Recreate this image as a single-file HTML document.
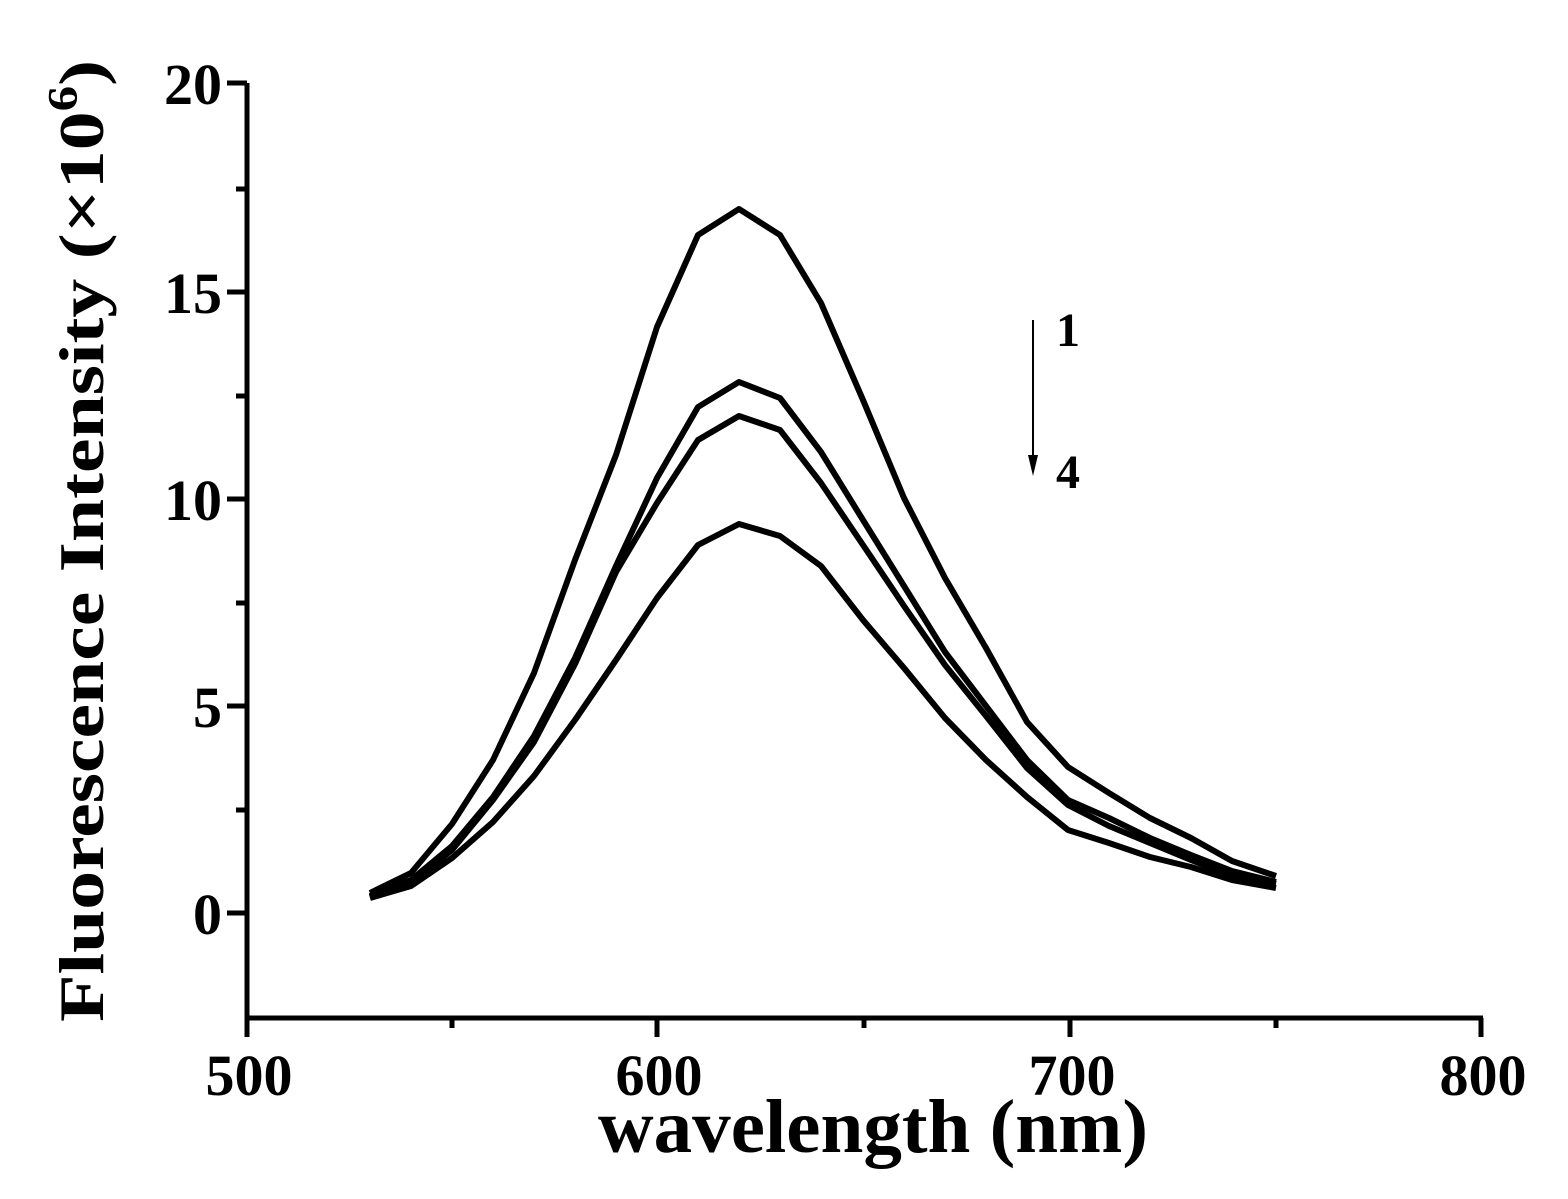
<!DOCTYPE html>
<html><head><style>html,body{margin:0;padding:0;background:#fff}</style></head>
<body>
<svg width="1568" height="1194" xmlns="http://www.w3.org/2000/svg" font-family="Liberation Serif, serif" font-weight="bold">
<g stroke="#000" stroke-width="5" fill="none">
<line x1="247" y1="83" x2="247" y2="1020"/>
<line x1="245" y1="1018" x2="1483" y2="1018"/>
<line x1="227" y1="83" x2="247" y2="83"/>
<line x1="227" y1="292" x2="247" y2="292"/>
<line x1="227" y1="499" x2="247" y2="499"/>
<line x1="227" y1="706" x2="247" y2="706"/>
<line x1="227" y1="913" x2="247" y2="913"/>
<line x1="236" y1="189" x2="247" y2="189"/>
<line x1="236" y1="396" x2="247" y2="396"/>
<line x1="236" y1="603" x2="247" y2="603"/>
<line x1="236" y1="810" x2="247" y2="810"/>
<line x1="247" y1="1018" x2="247" y2="1037"/>
<line x1="657" y1="1018" x2="657" y2="1037"/>
<line x1="1070" y1="1018" x2="1070" y2="1037"/>
<line x1="1481" y1="1018" x2="1481" y2="1037"/>
<line x1="452" y1="1018" x2="452" y2="1028"/>
<line x1="864" y1="1018" x2="864" y2="1028"/>
<line x1="1276" y1="1018" x2="1276" y2="1028"/>
</g>
<g font-size="58" text-anchor="end">
<text x="222" y="104">20</text>
<text x="222" y="313">15</text>
<text x="222" y="520">10</text>
<text x="222" y="727">5</text>
<text x="222" y="934">0</text>
</g>
<g font-size="58" text-anchor="middle">
<text x="249" y="1095">500</text>
<text x="659" y="1095">600</text>
<text x="1072" y="1095">700</text>
<text x="1483" y="1095">800</text>
</g>
<text x="598" y="1152" font-size="76" textLength="550" lengthAdjust="spacingAndGlyphs">wavelength (nm)</text>
<text transform="translate(103,1022) rotate(-90)" font-size="64" textLength="962" lengthAdjust="spacingAndGlyphs">Fluorescence Intensity (×10<tspan font-size="42" dy="-26">6</tspan><tspan dy="26">)</tspan></text>
<g stroke="#000" stroke-width="6" fill="none" stroke-linejoin="round">
<polyline points="370,893 411,873 452,824 493,760 534,673 575,560 616,455 657,327 698,235 739,209 780,235 821,303 863,400 904,498 945,578 986,648 1027,722 1068,767 1109,793 1150,818 1191,838 1232,861 1276,876"/>
<polyline points="370,896 411,880 452,846 493,797 534,736 575,658 616,566 657,478 698,407 739,382 780,398 821,452 863,520 904,586 945,652 986,706 1027,760 1068,800 1109,818 1150,838 1191,855 1232,871 1276,882"/>
<polyline points="370,897 411,882 452,850 493,800 534,742 575,664 616,572 657,503 698,440 739,416 780,430 821,483 863,545 904,606 945,665 986,716 1027,768 1068,805 1109,826 1150,843 1191,860 1232,876 1276,884"/>
<polyline points="370,898 411,886 452,858 493,822 534,776 575,720 616,660 657,598 698,545 739,524 780,536 821,566 863,620 904,668 945,718 986,760 1027,797 1068,830 1109,843 1150,857 1191,867 1232,880 1276,888"/>
</g>
<line x1="1033" y1="320" x2="1033" y2="460" stroke="#000" stroke-width="2"/>
<polygon points="1028,455 1038,455 1033,476" fill="#000"/>
<text x="1056" y="346" font-size="48">1</text>
<text x="1056" y="488" font-size="48">4</text>
</svg>
</body></html>
